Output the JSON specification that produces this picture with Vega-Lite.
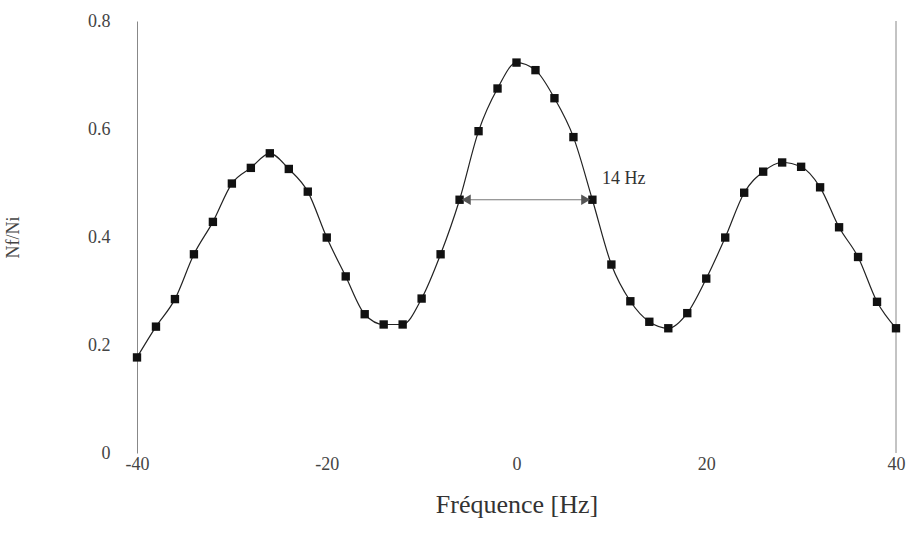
{
  "$schema": "https://vega.github.io/schema/vega-lite/v6.json",
  "width": 759,
  "height": 432,
  "autosize": "none",
  "padding": {"left": 137, "top": 21, "right": 13, "bottom": 101},
  "background": "white",
  "config": {"view": {"stroke": null}, "font": "Liberation Serif"},
  "datasets": {
    "pts": [
      {"f": -40, "r": 0.177}, {"f": -38, "r": 0.234}, {"f": -36, "r": 0.285}, {"f": -34, "r": 0.368},
      {"f": -32, "r": 0.428}, {"f": -30, "r": 0.499}, {"f": -28, "r": 0.528}, {"f": -26, "r": 0.555},
      {"f": -24, "r": 0.526}, {"f": -22, "r": 0.484}, {"f": -20, "r": 0.399}, {"f": -18, "r": 0.327},
      {"f": -16, "r": 0.257}, {"f": -14, "r": 0.238}, {"f": -12, "r": 0.238}, {"f": -10, "r": 0.286},
      {"f": -8, "r": 0.368}, {"f": -6, "r": 0.469}, {"f": -4, "r": 0.596}, {"f": -2, "r": 0.675},
      {"f": 0, "r": 0.723}, {"f": 2, "r": 0.709}, {"f": 4, "r": 0.657}, {"f": 6, "r": 0.585},
      {"f": 8, "r": 0.469}, {"f": 10, "r": 0.349}, {"f": 12, "r": 0.281}, {"f": 14, "r": 0.243},
      {"f": 16, "r": 0.231}, {"f": 18, "r": 0.259}, {"f": 20, "r": 0.323}, {"f": 22, "r": 0.399},
      {"f": 24, "r": 0.482}, {"f": 26, "r": 0.521}, {"f": 28, "r": 0.538}, {"f": 30, "r": 0.530},
      {"f": 32, "r": 0.492}, {"f": 34, "r": 0.418}, {"f": 36, "r": 0.363}, {"f": 38, "r": 0.280},
      {"f": 40, "r": 0.231}
    ],
    "arrow": [
      {"f": -5.3, "r": 0.469, "shape": "triangle-left"},
      {"f": 7.3, "r": 0.469, "shape": "triangle-right"}
    ],
    "border": [
      {"f": 40, "r0": 0, "r1": 0.8}
    ]
  },
  "layer": [
    {
      "data": {"name": "pts"},
      "mark": {"type": "line", "interpolate": "monotone", "color": "#222222", "strokeWidth": 1.2},
      "encoding": {
        "x": {
          "field": "f", "type": "quantitative",
          "scale": {"domain": [-40, 40], "nice": false},
          "axis": {
            "values": [-40, -20, 0, 20, 40], "domain": false, "ticks": false, "grid": false,
            "labelExpr": "datum.value + ''",
            "labelFont": "Liberation Serif", "labelFontSize": 18, "labelColor": "#444444",
            "labelPadding": 2, "labelFlush": false,
            "title": "Fréquence [Hz]", "titleFont": "Liberation Serif", "titleFontSize": 26,
            "titleFontWeight": "normal", "titleColor": "#333333", "titlePadding": 18
          }
        },
        "y": {
          "field": "r", "type": "quantitative",
          "scale": {"domain": [0, 0.8], "nice": false},
          "axis": {
            "values": [0, 0.2, 0.4, 0.6, 0.8], "domain": true, "domainColor": "#888888",
            "ticks": false, "grid": false,
            "labelExpr": "datum.value == 0 ? '0' : format(datum.value, '.1f')",
            "labelFont": "Liberation Serif", "labelFontSize": 18, "labelColor": "#444444",
            "labelPadding": 27,
            "title": "Nf/Ni", "titleFont": "Liberation Serif", "titleFontSize": 18,
            "titleFontWeight": "normal", "titleColor": "#444444",
            "titleX": -115, "titleY": 216
          }
        }
      }
    },
    {
      "data": {"name": "border"},
      "mark": {"type": "rule", "color": "#888888", "strokeWidth": 1},
      "encoding": {
        "x": {"field": "f", "type": "quantitative"},
        "y": {"field": "r0", "type": "quantitative"},
        "y2": {"field": "r1"}
      }
    },
    {
      "data": {"values": [{"a": -6, "b": 8, "r": 0.469}]},
      "mark": {"type": "rule", "color": "#777777", "strokeWidth": 1.2},
      "encoding": {
        "x": {"field": "a", "type": "quantitative"},
        "x2": {"field": "b"},
        "y": {"field": "r", "type": "quantitative"}
      }
    },
    {
      "data": {"name": "pts"},
      "mark": {"type": "point", "shape": "square", "filled": true, "size": 70, "color": "#111111", "opacity": 1},
      "encoding": {
        "x": {"field": "f", "type": "quantitative"},
        "y": {"field": "r", "type": "quantitative"}
      }
    },
    {
      "data": {"name": "arrow"},
      "mark": {"type": "point", "filled": true, "size": 110, "color": "#555555", "opacity": 1},
      "encoding": {
        "x": {"field": "f", "type": "quantitative"},
        "y": {"field": "r", "type": "quantitative"},
        "shape": {"field": "shape", "type": "nominal", "scale": null, "legend": null}
      }
    },
    {
      "data": {"values": [{"f": 9, "r": 0.507, "t": "14 Hz"}]},
      "mark": {"type": "text", "align": "left", "baseline": "middle", "font": "Liberation Serif", "fontSize": 18, "color": "#333333"},
      "encoding": {
        "x": {"field": "f", "type": "quantitative"},
        "y": {"field": "r", "type": "quantitative"},
        "text": {"field": "t"}
      }
    }
  ]
}
